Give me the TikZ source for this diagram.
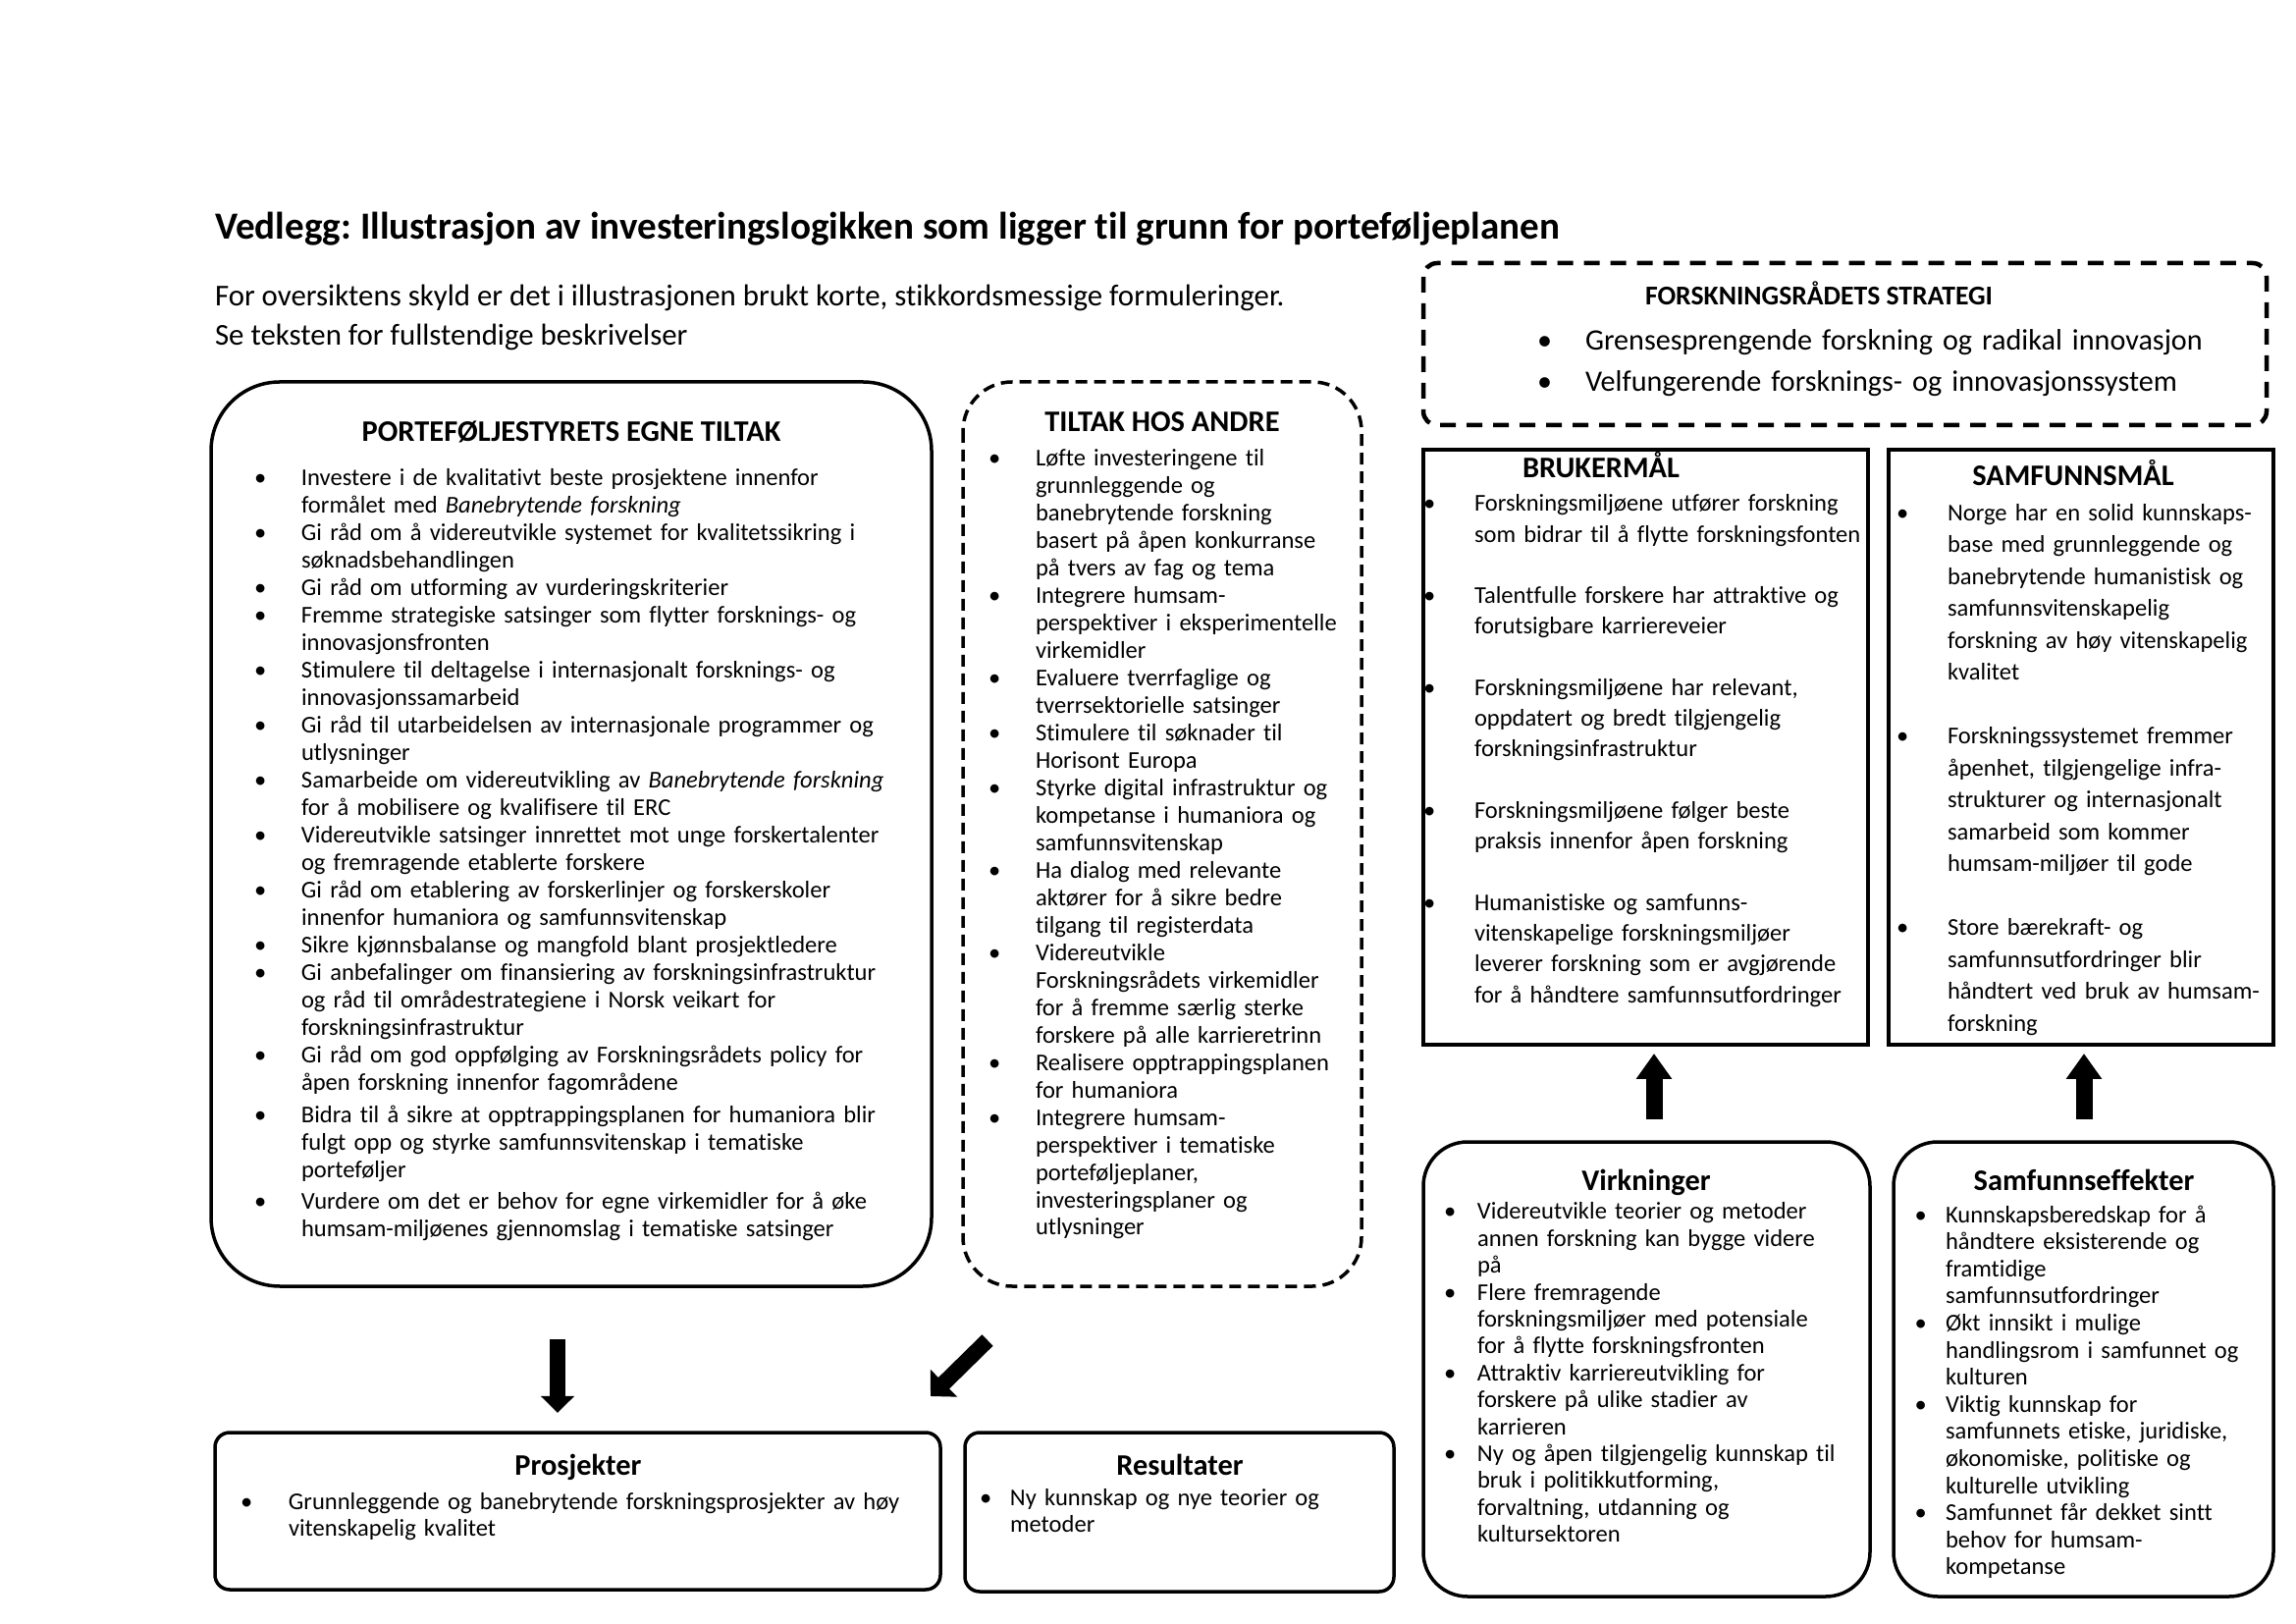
\documentclass[tikz,border=0pt]{standalone}
\usepackage{fontspec}
\setmainfont{Carlito}[Ligatures={TeX,NoCommon}]
\usetikzlibrary{arrows.meta}
\frenchspacing
% one pixel of the page at 200 dpi
\newlength\unitpx
\setlength\unitpx{0.12698mm}
\newlength\bulind
\newcommand\itm{\par\hangindent=\bulind\hangafter=1\noindent\makebox[\bulind][l]{\textbullet}\ignorespaces}

\begin{document}
\begin{tikzpicture}[x=\unitpx, y=-\unitpx,
  every node/.style={inner sep=0pt, outer sep=0pt},
  boxline/.style={line width=3.5\unitpx},
  dashline/.style={line width=3.5\unitpx, dash pattern=on 12\unitpx off 7\unitpx},
  head/.style={anchor=base, font=\bfseries\fontsize{11}{13}\selectfont},
  list/.style={anchor=north west, text width=#1\unitpx, align=left},
  blockarrow/.style={line width=16\unitpx, -{Triangle[length=2.16mm, width=4.19mm]}}]
\fill[white] (0,0) rectangle (2339,1654);
\useasboundingbox (0,0) rectangle (2339,1654);

% title and intro
\node[anchor=north west, font=\bfseries\fontsize{14.12}{17}\selectfont] (title) at (219,216)
  {Vedlegg: Illustrasjon av investeringslogikken som ligger til grunn for porteføljeplanen};
\node[anchor=north west, align=left, font=\fontsize{11.15}{14.5}\selectfont] (intro) at (219,290)
  {For oversiktens skyld er det i illustrasjonen brukt korte, stikkordsmessige formuleringer.\\
   Se teksten for fullstendige beskrivelser};

% boxes
\draw[boxline, rounded corners=70\unitpx] (215,389) rectangle (949,1310);
\draw[dashline, rounded corners=50\unitpx] (981,389) rectangle (1387,1310);
\draw[dashline, line width=4.5\unitpx, dash pattern=on 16\unitpx off 11\unitpx, rounded corners=14\unitpx] (1450,268) rectangle (2309,433);
\draw[boxline] (1450,458) rectangle (1903,1064);
\draw[boxline] (1924,458) rectangle (2316,1064);
\draw[boxline, rounded corners=45\unitpx] (1450,1163) rectangle (1905,1626);
\draw[boxline, rounded corners=45\unitpx] (1929,1163) rectangle (2316,1626);
\draw[boxline, rounded corners=15\unitpx] (219,1459) rectangle (958,1619);
\draw[boxline, rounded corners=15\unitpx] (983,1459) rectangle (1420,1621);

% headings
\node[head] (egnehead) at (582,450) {PORTEFØLJESTYRETS EGNE TILTAK};
\node[head] (andrehead) at (1184,440) {TILTAK HOS ANDRE};
\node[head, anchor=base west, font=\bfseries\fontsize{10}{13}\selectfont] (strathead) at (1676,311) {FORSKNINGSRÅDETS STRATEGI};
\node[head, anchor=base west] (brukhead) at (1551,487) {BRUKERMÅL};
\node[head] (samfhead) at (2112,495) {SAMFUNNSMÅL};
\node[head] (virkhead) at (1677,1212) {Virkninger};
\node[head] (effhead) at (2123,1212) {Samfunnseffekter};
\node[head] (proshead) at (589,1502) {Prosjekter};
\node[head] (resuhead) at (1202,1502) {Resultater};

% lists
\node[list=720, font=\fontsize{8.87}{10.13}\selectfont] (egne) at (259,466) {\setlength\bulind{48\unitpx}%
  \itm Investere i de kvalitativt beste prosjektene innenfor\newline formålet med \textit{Banebrytende forskning}
  \itm Gi råd om å videreutvikle systemet for kvalitetssikring i\newline søknadsbehandlingen
  \itm Gi råd om utforming av vurderingskriterier
  \itm Fremme strategiske satsinger som flytter forsknings- og\newline innovasjonsfronten
  \itm Stimulere til deltagelse i internasjonalt forsknings- og\newline innovasjonssamarbeid
  \itm Gi råd til utarbeidelsen av internasjonale programmer og\newline utlysninger
  \itm Samarbeide om videreutvikling av \textit{Banebrytende forskning}\newline for å mobilisere og kvalifisere til ERC
  \itm Videreutvikle satsinger innrettet mot unge forskertalenter\newline og fremragende etablerte forskere
  \itm Gi råd om etablering av forskerlinjer og forskerskoler\newline innenfor humaniora og samfunnsvitenskap
  \itm Sikre kjønnsbalanse og mangfold blant prosjektledere
  \itm Gi anbefalinger om finansiering av forskningsinfrastruktur\newline og råd til områdestrategiene i Norsk veikart for\newline forskningsinfrastruktur
  \itm Gi råd om god oppfølging av Forskningsrådets policy for\newline åpen forskning innenfor fagområdene
  \par\vspace{1.5pt}
  \itm Bidra til å sikre at opptrappingsplanen for humaniora blir\newline fulgt opp og styrke samfunnsvitenskap i tematiske\newline porteføljer
  \par\vspace{1.5pt}
  \itm Vurdere om det er behov for egne virkemidler for å øke\newline humsam-miljøenes gjennomslag i tematiske satsinger\par};

\node[list=380, font=\fontsize{8.87}{10.11}\selectfont] (andre) at (1007,446.5) {\setlength\bulind{48\unitpx}%
  \itm Løfte investeringene til\newline grunnleggende og\newline banebrytende forskning\newline basert på åpen konkurranse\newline på tvers av fag og tema
  \itm Integrere humsam-\newline perspektiver i eksperimentelle\newline virkemidler
  \itm Evaluere tverrfaglige og\newline tverrsektorielle satsinger
  \itm Stimulere til søknader til\newline Horisont Europa
  \itm Styrke digital infrastruktur og\newline kompetanse i humaniora og\newline samfunnsvitenskap
  \itm Ha dialog med relevante\newline aktører for å sikre bedre\newline tilgang til registerdata
  \itm Videreutvikle\newline Forskningsrådets virkemidler\newline for å fremme særlig sterke\newline forskere på alle karrieretrinn
  \itm Realisere opptrappingsplanen\newline for humaniora
  \itm Integrere humsam-\newline perspektiver i tematiske\newline porteføljeplaner,\newline investeringsplaner og\newline utlysninger\par};

\node[list=740, font=\fontsize{10.9}{15.3}\selectfont] (strat) at (1566,314) {\setlength\bulind{49\unitpx}%
  \itm Grensesprengende forskning og radikal innovasjon
  \itm Velfungerende forsknings- og innovasjonssystem\par};

\node[list=520, font=\fontsize{8.87}{11.3}\selectfont] (bruk) at (1450,489.5) {\setlength\bulind{52\unitpx}\setlength\parskip{11.3pt}\vspace{-\parskip}%
  \itm Forskningsmiljøene utfører forskning\newline som bidrar til å flytte forskningsfonten
  \itm Talentfulle forskere har attraktive og\newline forutsigbare karriereveier
  \itm Forskningsmiljøene har relevant,\newline oppdatert og bredt tilgjengelig\newline forskningsinfrastruktur
  \itm Forskningsmiljøene følger beste\newline praksis innenfor åpen forskning
  \itm Humanistiske og samfunns-\newline vitenskapelige forskningsmiljøer\newline leverer forskning som er avgjørende\newline for å håndtere samfunnsutfordringer\par};

\node[list=440, font=\fontsize{8.87}{11.75}\selectfont] (samf) at (1932,497.5) {\setlength\bulind{52\unitpx}\setlength\parskip{11.75pt}\vspace{-\parskip}%
  \itm Norge har en solid kunnskaps-\newline base med grunnleggende og\newline banebrytende humanistisk og\newline samfunnsvitenskapelig\newline forskning av høy vitenskapelig\newline kvalitet
  \itm Forskningssystemet fremmer\newline åpenhet, tilgjengelige infra-\newline strukturer og internasjonalt\newline samarbeid som kommer\newline humsam-miljøer til gode
  \itm Store bærekraft- og\newline samfunnsutfordringer blir\newline håndtert ved bruk av humsam-\newline forskning\par};

\node[list=460, font=\fontsize{8.87}{9.9}\selectfont] (virk) at (1471,1214.5) {\setlength\bulind{34\unitpx}%
  \itm Videreutvikle teorier og metoder\newline annen forskning kan bygge videre\newline på
  \itm Flere fremragende\newline forskningsmiljøer med potensiale\newline for å flytte forskningsfronten
  \itm Attraktiv karriereutvikling for\newline forskere på ulike stadier av\newline karrieren
  \itm Ny og åpen tilgjengelig kunnskap til\newline bruk i politikkutforming,\newline forvaltning, utdanning og\newline kultursektoren\par};

\node[list=380, font=\fontsize{8.87}{9.97}\selectfont] (eff) at (1950.5,1217.5) {\setlength\bulind{31.5\unitpx}%
  \itm Kunnskapsberedskap for å\newline håndtere eksisterende og\newline framtidige\newline samfunnsutfordringer
  \itm Økt innsikt i mulige\newline handlingsrom i samfunnet og\newline kulturen
  \itm Viktig kunnskap for\newline samfunnets etiske, juridiske,\newline økonomiske, politiske og\newline kulturelle utvikling
  \itm Samfunnet får dekket sintt\newline behov for humsam-\newline kompetanse\par};

\node[list=720, font=\fontsize{8.87}{9.7}\selectfont] (pros) at (245,1511) {\setlength\bulind{49\unitpx}%
  \itm Grunnleggende og banebrytende forskningsprosjekter av høy\newline vitenskapelig kvalitet\par};

\node[list=400, font=\fontsize{8.87}{10}\selectfont] (resu) at (998,1505.5) {\setlength\bulind{31\unitpx}%
  \itm Ny kunnskap og nye teorier og\newline metoder\par};

% arrows
\coordinate (egnetail) at (568,1364);
\coordinate (prostip) at (568,1439);
\coordinate (andretail) at (1006,1365);
\coordinate (andretip) at (948,1422);
\coordinate (virktail) at (1685,1140);
\coordinate (bruktip) at (1685,1073);
\coordinate (efftail) at (2123,1140);
\coordinate (samftip) at (2123,1073);
\draw[blockarrow] (egnetail) -- (prostip);
\draw[blockarrow, -{Triangle[length=2.41mm, width=4.83mm]}] (andretail) -- (andretip);
\draw[blockarrow, line width=17\unitpx, -{Triangle[length=3.3mm, width=4.44mm]}] (virktail) -- (bruktip);
\draw[blockarrow, line width=17\unitpx, -{Triangle[length=3.3mm, width=4.44mm]}] (efftail) -- (samftip);
\end{tikzpicture}
\end{document}
